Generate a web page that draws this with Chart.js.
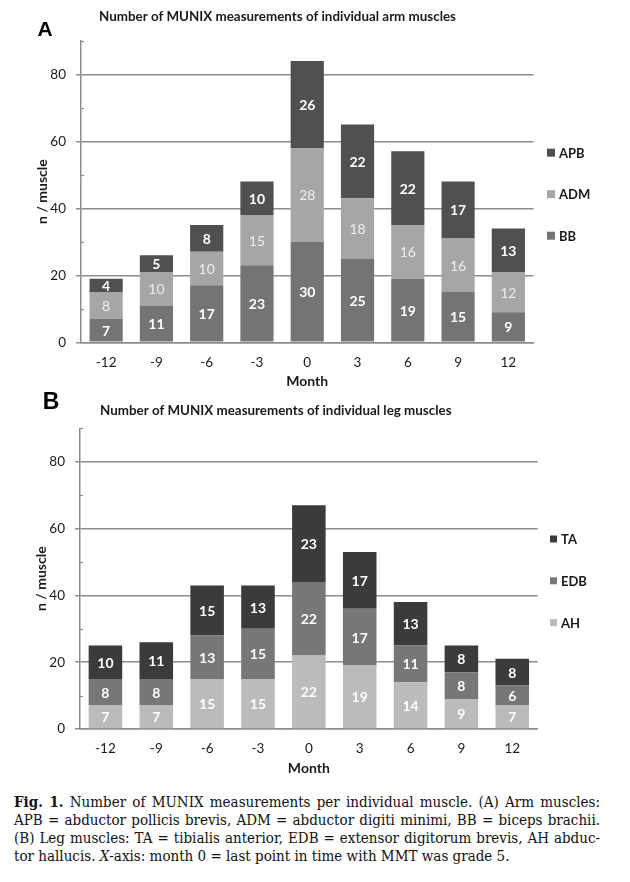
<!DOCTYPE html>
<html>
<head>
<meta charset="utf-8">
<script src="https://cdn.jsdelivr.net/npm/chart.js@4.4.1/dist/chart.umd.min.js"></script>
<style>
  html, body { margin: 0; padding: 0; background: #fff; }
  #page { position: relative; width: 630px; height: 882px; overflow: hidden; }
  .panel { position: absolute; left: 0; width: 630px; height: 392px; }
  #panelA { top: 0; }
  #panelB { top: 392px; }
  #caption {
    position: absolute; left: 14px; top: 793px; width: 586px;
    font-family: "DejaVu Serif Condensed", "DejaVu Serif", serif;
    font-size: 15px; line-height: 18px; color: #111;
  }
  #caption div { white-space: nowrap; }
  #caption .j { text-align: justify; text-align-last: justify; }
</style>
</head>
<body>
<div id="page">
  <div class="panel" id="panelA"><canvas id="armChart"></canvas></div>
  <div class="panel" id="panelB"><canvas id="legChart"></canvas></div>
  <div id="caption">
    <div class="j"><b>Fig. 1.</b> Number of MUNIX measurements per individual muscle. (A) Arm muscles:</div>
    <div class="j">APB = abductor pollicis brevis, ADM = abductor digiti minimi, BB = biceps brachii.</div>
    <div class="j">(B) Leg muscles: TA = tibialis anterior, EDB = extensor digitorum brevis, AH abduc-</div>
    <div>tor hallucis. <i>X</i>-axis: month 0 = last point in time with MMT was grade 5.</div>
  </div>
</div>
<script>
// ==================== Data ====================

const months = ['-12', '-9', '-6', '-3', '0', '3', '6', '9', '12'];

// (A) arm muscles, bottom to top of each stack
const armBB  = [7, 11, 17, 23, 30, 25, 19, 15, 9];
const armADM = [8, 10, 10, 15, 28, 18, 16, 16, 12];
const armAPB = [4, 5, 8, 10, 26, 22, 22, 17, 13];

// (B) leg muscles, bottom to top of each stack
const legAH  = [7, 7, 15, 15, 22, 19, 14, 9, 7];
const legEDB = [8, 8, 13, 15, 22, 17, 11, 8, 6];
const legTA  = [10, 11, 15, 13, 23, 17, 13, 8, 8];

const yMax = 90;
const yStep = 10;      // minor ticks
const gridEvery = 20;  // labelled ticks + gridlines

// ==================== Styling ====================

const gridColor = '#8c8c8c';
const textColor = '#1a1a1a';
const sans = 'Lato, "Open Sans", sans-serif';

/**
 * Numbers written inside each stacked segment
 */
const barLabels = {
    id: 'barLabels',
    afterDatasetsDraw(chart) {
        const ctx = chart.ctx;
        ctx.save();
        ctx.textAlign = 'center';
        ctx.textBaseline = 'middle';
        chart.data.datasets.forEach((ds, i) => {
            const meta = chart.getDatasetMeta(i);
            ctx.fillStyle = ds.labelColor;
            ctx.font = ds.labelFont;
            meta.data.forEach((bar, j) => {
                ctx.fillText(String(ds.data[j]), bar.x, (bar.y + bar.base) / 2 + 1);
            });
        });
        ctx.restore();
    }
};

/**
 * Panel letter, title, minor axis ticks and the legend on the right
 */
const panelDecor = {
    id: 'panelDecor',
    afterDraw(chart, args, opts) {
        const ctx = chart.ctx;
        const area = chart.chartArea;
        const yScale = chart.scales.y;
        ctx.save();

        // small inward ticks at the odd tens
        ctx.strokeStyle = gridColor;
        ctx.lineWidth = 1.2;
        for (let v = yStep; v <= yMax; v += gridEvery) {
            const py = Math.round(yScale.getPixelForValue(v)) + 0.5;
            ctx.beginPath();
            ctx.moveTo(area.left, py);
            ctx.lineTo(area.left + 3, py);
            ctx.stroke();
        }

        // panel letter
        ctx.fillStyle = '#000';
        ctx.textBaseline = 'middle';
        ctx.textAlign = 'center';
        ctx.font = 'bold ' + opts.letterSize + 'px "Liberation Sans", Arial, sans-serif';
        ctx.fillText(opts.letter, opts.letterX, opts.letterY);

        // title, sized to the width it has in the figure
        ctx.textAlign = 'left';
        ctx.font = 'bold 12px ' + sans;
        const size = 12 * opts.titleWidth / ctx.measureText(opts.title).width;
        ctx.font = 'bold ' + size.toFixed(2) + 'px ' + sans;
        ctx.fillStyle = textColor;
        ctx.fillText(opts.title, opts.titleX, opts.titleY);

        // legend, top of the stack first
        ctx.font = 'bold 13px ' + sans;
        const items = chart.data.datasets.slice().reverse();
        items.forEach((ds, k) => {
            const cy = opts.legendY + k * opts.legendGap;
            ctx.fillStyle = ds.backgroundColor;
            ctx.fillRect(opts.legendX, cy - opts.legendBox / 2, opts.legendBox, opts.legendBox);
            ctx.fillStyle = textColor;
            ctx.fillText(ds.label, opts.legendX + opts.legendBox + 4, cy + 1);
        });

        ctx.restore();
    }
};

function makeDataset(label, data, color, labelColor, labelWeight) {
    return {
        label: label,
        data: data,
        backgroundColor: color,
        borderWidth: 0,
        barPercentage: 0.66,
        categoryPercentage: 1,
        labelColor: labelColor,
        labelFont: labelWeight + ' 14px ' + sans
    };
}

function buildChart(canvasId, datasets, frame, decor) {
    return new Chart(document.getElementById(canvasId), {
        type: 'bar',
        data: { labels: months, datasets: datasets },
        options: {
            responsive: true,
            maintainAspectRatio: false,
            animation: false,
            layout: {
                padding: { left: frame.padLeft, right: 630 - frame.right, top: frame.top, bottom: 0 }
            },
            plugins: {
                legend: { display: false },
                tooltip: { enabled: false },
                panelDecor: decor
            },
            scales: {
                x: {
                    stacked: true,
                    grid: { display: false, drawTicks: false },
                    border: { display: true, color: gridColor, width: 1.5 },
                    ticks: {
                        color: textColor,
                        padding: 12,
                        maxRotation: 0,
                        font: { family: sans, size: 13.5 }
                    },
                    title: {
                        display: true,
                        text: 'Month',
                        color: textColor,
                        font: { family: sans, size: 14, weight: 'bold' },
                        padding: { top: 0, bottom: frame.monthPad }
                    },
                    afterFit: s => { s.height = frame.height - frame.bottom; }
                },
                y: {
                    stacked: true,
                    min: 0,
                    max: yMax,
                    grid: {
                        color: c => (c.tick && c.tick.value % gridEvery === 0) ? gridColor : 'rgba(0,0,0,0)',
                        lineWidth: 1.5,
                        tickLength: 5
                    },
                    border: { display: true, color: gridColor, width: 1.5 },
                    ticks: {
                        stepSize: yStep,
                        autoSkip: false,
                        padding: 10,
                        color: textColor,
                        font: { family: sans, size: 13.5 },
                        callback: v => (v % gridEvery === 0 ? v : '')
                    },
                    title: {
                        display: true,
                        text: 'n / muscle',
                        color: textColor,
                        font: { family: sans, size: 14, weight: 'bold' },
                        padding: { top: 4, bottom: 0 }
                    },
                    afterFit: s => { s.width = frame.left - frame.padLeft; }
                }
            }
        },
        plugins: [barLabels, panelDecor]
    });
}

// ==================== Charts ====================

buildChart('armChart', [
    makeDataset('BB', armBB, '#747474', '#ffffff', 'bold'),
    makeDataset('ADM', armADM, '#a6a6a6', '#eeeeee', 'normal'),
    makeDataset('APB', armAPB, '#505050', '#ffffff', 'bold')
], {
    padLeft: 30, left: 81, right: 533.5, top: 40.8, bottom: 342.3, height: 392, monthPad: 2.5
}, {
    letter: 'A', letterSize: 21, letterX: 45, letterY: 30,
    title: 'Number of MUNIX measurements of individual arm muscles',
    titleX: 99, titleY: 17, titleWidth: 357,
    legendX: 547, legendY: 152.7, legendGap: 41.5, legendBox: 8
});

buildChart('legChart', [
    makeDataset('AH', legAH, '#bbbbbb', '#ffffff', 'bold'),
    makeDataset('EDB', legEDB, '#777777', '#ffffff', 'bold'),
    makeDataset('TA', legTA, '#3b3b3b', '#ffffff', 'bold')
], {
    padLeft: 29, left: 80, right: 537.7, top: 36.4, bottom: 337, height: 392, monthPad: 7.2
}, {
    letter: 'B', letterSize: 23, letterX: 51, letterY: 11,
    title: 'Number of MUNIX measurements of individual leg muscles',
    titleX: 100, titleY: 18.7, titleWidth: 352,
    legendX: 550, legendY: 147, legendGap: 41.8, legendBox: 7
});
</script>
</body>
</html>
